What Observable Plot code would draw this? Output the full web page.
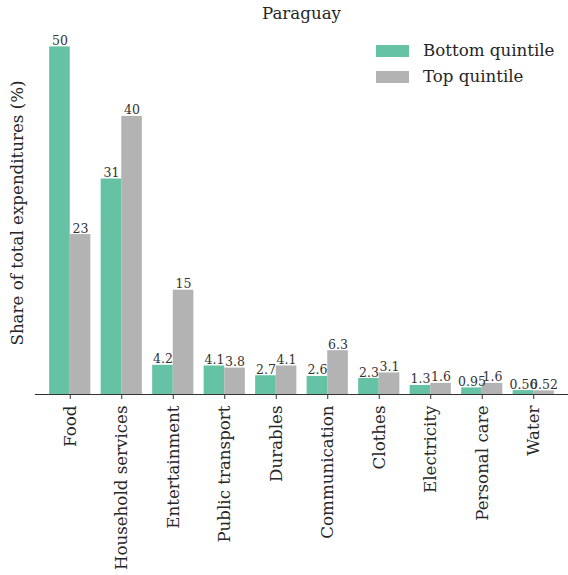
<!DOCTYPE html>
<html>
<head>
<meta charset="utf-8">
<script src="https://cdn.jsdelivr.net/npm/d3@7"></script>
<script src="https://cdn.jsdelivr.net/npm/@observablehq/plot@0.6"></script>
<style>
  body { margin: 0; background: #fff; }
  #wrap { position: relative; width: 568px; height: 575px; color: #262626; }
  #chart { position: absolute; left: 0; top: 28px; }
  .leg { position: absolute; left: 376px; display: flex; align-items: center; font-size: 16.67px; }
  .sw { width: 33px; height: 12px; margin-right: 14px; }
</style>
</head>
<body style="font-family:'DejaVu Serif'">
<div id="wrap" style="font-family:'DejaVu Serif'">
  <div id="title" style="position:absolute;left:35px;width:533px;top:3px;text-align:center;font-size:16.67px;line-height:21px;font-family:'DejaVu Serif'">Paraguay</div>
  <div id="chart"></div>
  <div id="ylabel" style="position:absolute;left:17.5px;top:213px;transform:translate(-50%,-50%) rotate(-90deg);white-space:nowrap;font-size:16.67px;line-height:20px;font-family:'DejaVu Serif'">Share of total expenditures (%)</div>
  <div id="legend"></div>
</div>
<script>
const categories = ["Food", "Household services", "Entertainment", "Public transport", "Durables", "Communication", "Clothes", "Electricity", "Personal care", "Water"];
const bottomQuintile = [50, 31, 4.2, 4.1, 2.7, 2.6, 2.3, 1.3, 0.95, 0.56];
const topQuintile = [23, 40, 15, 3.8, 4.1, 6.3, 3.1, 1.6, 1.6, 0.52];
const seriesNames = ["Bottom quintile", "Top quintile"];
const colors = ["#66c2a5", "#b3b3b3"];

const data = categories.map((c, i) => ({category: c, bottom: bottomQuintile[i], top: topQuintile[i]}));

const W = 568, H = 547, mL = 35, mR = 0, mT = 1, mB = 181;
const xOpts = {type: "band", domain: categories, range: [mL, W - mR], paddingInner: 0.2, paddingOuter: 0.275, round: false};
const half = Plot.scale({x: xOpts}).bandwidth / 2;
const fmt = v => String(v);

const chart = Plot.plot({
  width: W, height: H,
  marginLeft: mL, marginRight: mR, marginTop: mT, marginBottom: mB,
  style: "font-family:'DejaVu Serif';font-size:16.67px;color:#262626;background:#fff",
  x: {domain: categories, paddingInner: 0.2, paddingOuter: 0.275, round: false, axis: null},
  y: {domain: [0, 52.5], axis: null},
  marks: [
    Plot.barY(data, {x: "category", y: "bottom", fill: colors[0], insetLeft: 0, insetRight: half}),
    Plot.barY(data, {x: "category", y: "top", fill: colors[1], insetLeft: half, insetRight: 0}),
    Plot.text(data, {x: "category", y: "bottom", text: d => fmt(d.bottom), dx: -half / 2, dy: -2, lineAnchor: "bottom", fontSize: 12.5, fill: "#333"}),
    Plot.text(data, {x: "category", y: "top", text: d => fmt(d.top), dx: half / 2, dy: -2, lineAnchor: "bottom", fontSize: 12.5, fill: "#333"}),
    Plot.ruleY([0], {stroke: "#333", strokeWidth: 1.2}),
    Plot.axisX({tickRotate: -90, tickSize: 5, tickPadding: 6, label: null, fontSize: 16.67, stroke: "#333"})
  ]
});
chart.querySelectorAll("text, g").forEach(t => t.style.fontFamily = "'DejaVu Serif'");
document.getElementById("chart").appendChild(chart);

const legend = document.getElementById("legend");
seriesNames.forEach((name, i) => {
  const row = document.createElement("div");
  row.className = "leg";
  row.style.top = (41 + i * 26) + "px";
  row.style.fontFamily = "'DejaVu Serif'";
  const sw = document.createElement("div");
  sw.className = "sw";
  sw.style.background = colors[i];
  const t = document.createElement("span");
  t.textContent = name;
  row.appendChild(sw);
  row.appendChild(t);
  legend.appendChild(row);
});
</script>
</body>
</html>
